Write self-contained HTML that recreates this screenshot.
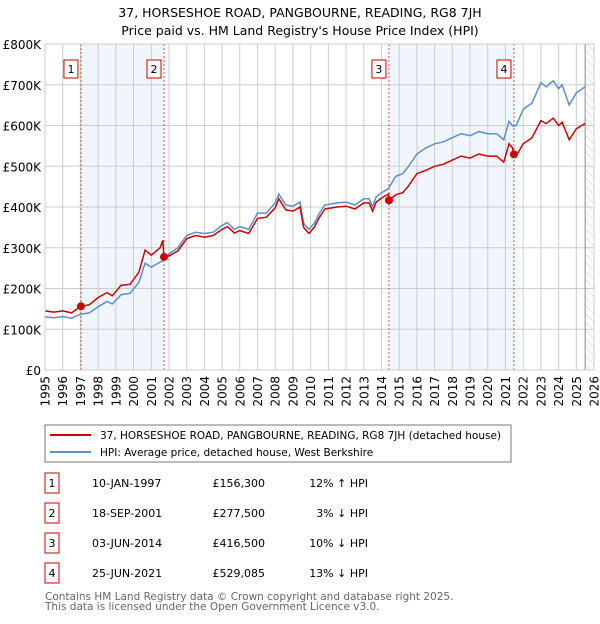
<!DOCTYPE html>
<html><head><meta charset="utf-8"><style>
body{margin:0;background:#fff;font-family:"DejaVu Sans","Liberation Sans",sans-serif;}
svg text{font-family:"DejaVu Sans","Liberation Sans",sans-serif;}
</style></head><body>
<svg id="c" width="600" height="620" xmlns="http://www.w3.org/2000/svg">
<defs><pattern id="hatch" width="6" height="6" patternUnits="userSpaceOnUse" patternTransform="rotate(-45)"><line x1="0" y1="0" x2="0" y2="6" stroke="#ccc" stroke-width="1"/></pattern></defs>
<text x="300" y="17" text-anchor="middle" font-size="12.5">37, HORSESHOE ROAD, PANGBOURNE, READING, RG8 7JH</text>
<text x="300" y="35" text-anchor="middle" font-size="12.5">Price paid vs. HM Land Registry's House Price Index (HPI)</text>
<g id="plot"></g>
<rect x="45" y="425" width="466" height="37" fill="#fff" stroke="#777"/>
<line x1="50" y1="435" x2="91" y2="435" stroke="#cc0000" stroke-width="2"/>
<text x="100" y="439" font-size="10.5">37, HORSESHOE ROAD, PANGBOURNE, READING, RG8 7JH (detached house)</text>
<line x1="50" y1="452" x2="91" y2="452" stroke="#5b8fd0" stroke-width="2"/>
<text x="100" y="456" font-size="10.5">HPI: Average price, detached house, West Berkshire</text>
<g id="table" font-size="11"></g>
<text x="45" y="600" font-size="10.5" fill="#666">Contains HM Land Registry data © Crown copyright and database right 2025.</text>
<text x="45" y="610" font-size="10.5" fill="#666">This data is licensed under the Open Government Licence v3.0.</text>
</svg>
<script>
const years=[1995,1995.5,1996,1996.5,1997,1997.5,1998,1998.5,1998.8,1999.3,1999.8,2000.3,2000.65,2001.0,2001.5,2001.65,2001.72,2002,2002.5,2003,2003.5,2004,2004.5,2005,2005.3,2005.7,2006,2006.5,2007,2007.5,2008,2008.2,2008.6,2009,2009.4,2009.6,2009.9,2010.2,2010.5,2010.8,2011.5,2012,2012.5,2013,2013.3,2013.5,2013.7,2014,2014.4,2014.42,2014.8,2015.2,2015.5,2016,2016.5,2017,2017.5,2018,2018.5,2019,2019.5,2020,2020.5,2020.9,2021.2,2021.4,2021.48,2021.6,2022,2022.5,2023,2023.3,2023.7,2024,2024.2,2024.6,2025,2025.5];
const hpi=[130,128,131,127,137,140,155,168,162,185,188,215,262,252,265,268,275,285,300,330,338,335,338,355,362,345,352,345,385,385,410,432,405,402,412,360,345,360,385,405,410,412,405,420,420,402,425,435,445,447,475,482,498,530,545,555,560,570,580,575,585,580,580,565,610,600,598,600,640,655,705,695,710,690,700,650,680,695];
const price=[145,142,145,140,156,160,178,190,182,208,210,240,294,282,300,318,277,280,292,322,330,326,330,345,352,336,342,335,372,375,398,420,393,390,400,350,335,350,375,395,400,402,395,410,410,390,412,422,432,416,430,435,450,482,490,500,505,515,525,520,530,525,525,510,555,545,529,525,555,570,612,605,618,600,608,565,592,605];
const saleYears=[1997.03,2001.72,2014.42,2021.48];
const salePrices=[156.3,277.5,416.5,529.085];
const saleDates=["10-JAN-1997","18-SEP-2001","03-JUN-2014","25-JUN-2021"];
const saleAmounts=["£156,300","£277,500","£416,500","£529,085"];
const saleDiffs=["12% \u2191 HPI","3% \u2193 HPI","10% \u2193 HPI","13% \u2193 HPI"];
const yTicks=[0,100,200,300,400,500,600,700,800];
const yTickLabels=["£0","£100K","£200K","£300K","£400K","£500K","£600K","£700K","£800K"];
const xTicks=[1995,1996,1997,1998,1999,2000,2001,2002,2003,2004,2005,2006,2007,2008,2009,2010,2011,2012,2013,2014,2015,2016,2017,2018,2019,2020,2021,2022,2023,2024,2025,2026];

const X0=45,X1=594,Y0=370,Y1=44;
const xs=v=>X0+(v-1995)/(2026-1995)*(X1-X0);
const ys=v=>Y0-v/800*(Y0-Y1);
const NS="http://www.w3.org/2000/svg";
const plot=document.getElementById('plot');
function mk(tag,at,parent){const e=document.createElementNS(NS,tag);for(const k in at)e.setAttribute(k,at[k]);(parent||plot).appendChild(e);return e;}
for(let i=0;i<saleYears.length;i+=2){
 const r=mk('rect',{x:xs(saleYears[i]),y:Y1,width:xs(saleYears[i+1])-xs(saleYears[i]),height:Y0-Y1,fill:'#eef3fd',opacity:0.8});
 
 
}
const hr=mk('rect',{x:xs(2025.5),y:Y1,width:X1-xs(2025.5),height:Y0-Y1,fill:'url(#hatch)'});


yTicks.forEach((t,i)=>{
 const l=mk('line',{x1:X0,x2:X1,y1:ys(t),y2:ys(t),stroke:'#ccc','stroke-width':1});
 
 
 const tx=mk('text',{x:X0-4,y:ys(t)+5,'text-anchor':'end','font-size':12});
 tx.textContent=yTickLabels[i];
 
 
});
xTicks.forEach(t=>{
 const l=mk('line',{x1:xs(t),x2:xs(t),y1:Y1,y2:Y0,stroke:'#ccc','stroke-width':1});
 
 
 const tx=mk('text',{x:0,y:0,'text-anchor':'end','font-size':12,transform:`translate(${xs(t)+4.5},376) rotate(-90)`});
 tx.textContent=t;
 
 
});
const nl=mk('line',{x1:xs(2025.5),x2:xs(2025.5),y1:Y1,y2:Y0,stroke:'#888','stroke-width':1});


saleYears.forEach((s,i)=>{
 const l=mk('line',{x1:xs(s),x2:xs(s),y1:Y1,y2:Y0,stroke:'#e05555','stroke-width':1,'stroke-dasharray':'2,2'});
 
 
 const b=mk('rect',{x:xs(s)-17,y:60,width:14,height:18,fill:'#fff',stroke:'#cc0000'});
 
 
 const t=mk('text',{x:xs(s)-10,y:73,'text-anchor':'middle','font-size':11});
 t.textContent=i+1;
 
 
});
const pts=a=>a.map((v,i)=>xs(years[i]).toFixed(1)+','+ys(v).toFixed(1)).join(' ');
const h=mk('polyline',{points:pts(hpi),fill:'none',stroke:'#5b8fd0','stroke-width':1.5});


const p=mk('polyline',{points:pts(price),fill:'none',stroke:'#cc0000','stroke-width':1.5});


saleYears.forEach((s,i)=>{
 const c=mk('circle',{cx:xs(s),cy:ys(salePrices[i]),r:4,fill:'#cc0000'});
 
 
});
const fr=mk('rect',{x:X0,y:Y1,width:X1-X0,height:Y0-Y1,fill:'none',stroke:'#ccc'});


const tb=document.getElementById('table');
saleDates.forEach((d,i)=>{
 const cy=483+i*30;
 const b=mk('rect',{x:45,y:cy-10,width:14,height:20,fill:'#fff',stroke:'#cc0000'},tb);
 
 
 const n=mk('text',{x:52,y:cy+4,'text-anchor':'middle'},tb);n.textContent=i+1;
 
 
 const t1=mk('text',{x:92,y:cy+4},tb);t1.textContent=d;
 
 
 const t2=mk('text',{x:265,y:cy+4,'text-anchor':'end'},tb);t2.textContent=saleAmounts[i];
 
 
 const t3=mk('text',{x:368,y:cy+4,'text-anchor':'end'},tb);t3.textContent=saleDiffs[i];
 
 
});
</script>
</body></html>
